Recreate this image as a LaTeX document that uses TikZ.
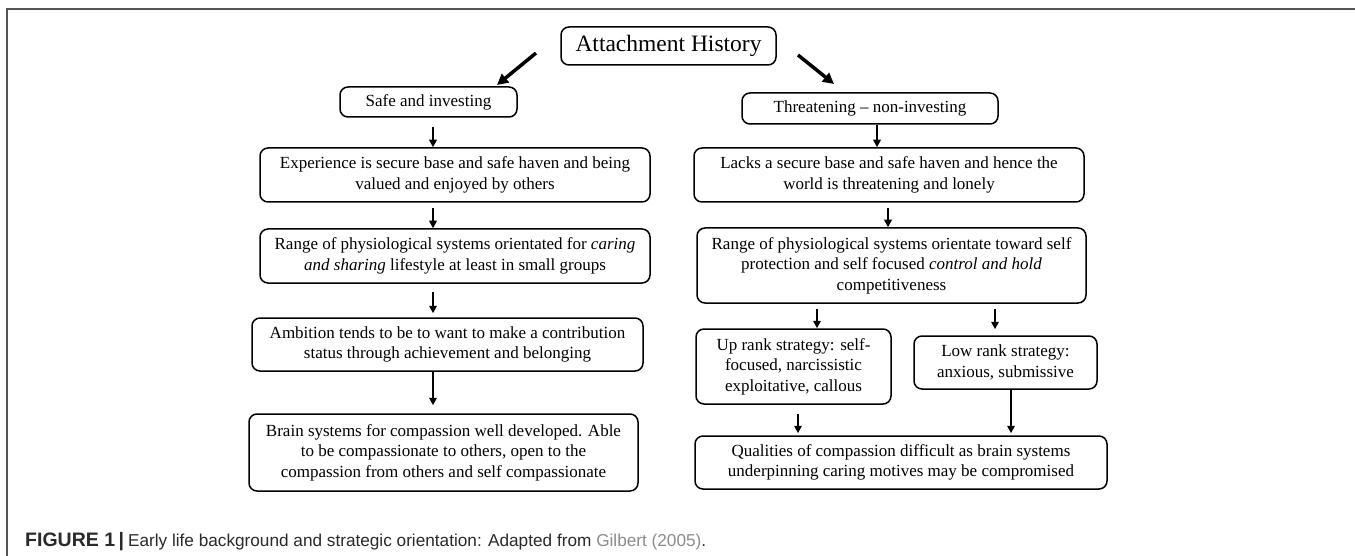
\documentclass[tikz,border=0pt]{standalone}
\usepackage{fontspec}
\setmainfont{Liberation Serif}
\newfontfamily\capfont{Liberation Sans}
\usetikzlibrary{arrows.meta}
\definecolor{framegray}{HTML}{555555}
\definecolor{captext}{HTML}{2A2A2A}
\definecolor{linkgray}{HTML}{8C8C8C}
\begin{document}
\begin{tikzpicture}[x=1pt,y=-1pt,
  box/.style={draw=black, line width=1.5pt, rounded corners=8pt, inner sep=0pt, align=center,
              font=\fontsize{17pt}{20.5pt}\selectfont},
  arr/.style={line width=1.8pt, -{Triangle[length=7.5pt,width=7.5pt]}},
  bigarr/.style={line width=3.5pt, -{Triangle[length=11pt,width=11pt]}}]
\useasboundingbox (0,0) rectangle (1355,556);
\fill[white] (0,0) rectangle (1355,556);
\draw[framegray, line width=1.5pt] (1355,9) -- (7,9) -- (7,556);

% title
\node[box, minimum width=215pt, minimum height=38pt, font=\fontsize{23.5pt}{26pt}\selectfont] (ah) at (668.5,46) {Attachment History};

% left column
\node[box, minimum width=177pt, minimum height=30pt] (s1) at (428.5,102) {Safe and investing};
\node[box, minimum width=390pt, minimum height=54pt] (e1) at (455,175)
  {Experience is secure base and safe haven and being\\valued and enjoyed by others};
\node[box, minimum width=390pt, minimum height=54pt] (r1) at (455,256)
  {Range of physiological\ systems orientated for \textit{caring}\\\textit{and sharing} lifestyle at least in small groups};
\node[box, minimum width=391pt, minimum height=53pt] (a1) at (447.5,344.5)
  {Ambition tends to be to want to make a contribution\\status through achievement and belonging};
\node[box, minimum width=389pt, minimum height=77pt] (b1) at (443.5,452.5)
  {Brain systems for compassion well developed. Able\\to be compassionate to others, open to the\\compassion from others and self compassionate};

% right column
\node[box, minimum width=256pt, minimum height=31pt] (t1) at (870,108.5) {Threatening -- non-investing};
\node[box, minimum width=390pt, minimum height=54pt] (l1) at (889,175)
  {Lacks a secure base and safe haven and hence the\\world is threatening and lonely};
\node[box, minimum width=389pt, minimum height=75pt] (r2) at (891.5,265.5)
  {Range of physiological\ systems orientate toward self\\protection and self focused \textit{control and hold}\\competitiveness};
\node[box, minimum width=195pt, minimum height=75pt] (u1) at (793.5,366.5)
  {Up rank strategy: self-\\focused, narcissistic\\exploitative, callous};
\node[box, minimum width=183pt, minimum height=53pt] (lo) at (1005.5,362.5)
  {Low rank strategy:\\anxious, submissive};
\node[box, minimum width=412pt, minimum height=53pt] (q1) at (901,462.5)
  {Qualities of compassion difficult as brain systems\\underpinning caring motives may be compromised};

% big diagonal arrows
\coordinate (dl1) at (536,53);
\coordinate (dl2) at (497,85);
\coordinate (dr1) at (798,55);
\coordinate (dr2) at (834,84);
\draw[bigarr] (dl1) -- (dl2);
\draw[bigarr] (dr1) -- (dr2);

% left arrows
\draw[arr] ([xshift=4.5pt,yshift=-9pt]s1.south) -- ([xshift=-22pt]e1.north);
\draw[arr] ([xshift=-22pt,yshift=-5pt]e1.south) -- ([xshift=-22pt]r1.north);
\draw[arr] ([xshift=-22pt,yshift=-8pt]r1.south) -- ([xshift=-14.5pt,yshift=4pt]a1.north);
\draw[arr] ([xshift=-14.5pt]a1.south) -- ([xshift=-10.5pt,yshift=8pt]b1.north);

% right arrows
\draw[arr] ([xshift=7pt]t1.south) -- ([xshift=-12pt]l1.north);
\draw[arr] ([xshift=-1pt,yshift=-5pt]l1.south) -- ([xshift=-3.5pt]r2.north);
\draw[arr] ([xshift=-74.5pt,yshift=-5pt]r2.south) -- ([xshift=23.5pt]u1.north);
\draw[arr] ([xshift=103.5pt,yshift=-5pt]r2.south) -- ([xshift=-10.5pt,yshift=6pt]lo.north);
\draw[arr] ([xshift=4.5pt,yshift=-9pt]u1.south) -- ([xshift=-103pt,yshift=2pt]q1.north);
\draw[arr] ([xshift=5.5pt]lo.south) -- ([xshift=110pt,yshift=2pt]q1.north);

% caption
\node[anchor=base west, inner sep=0pt, text=captext, font=\capfont\fontsize{17.2pt}{20pt}\selectfont] (cap) at (25,546.7)
  {{\fontsize{19.5pt}{20pt}\selectfont\bfseries FIGURE~1}\hspace{3.5pt}{\fontsize{19.5pt}{20pt}\selectfont\bfseries|}\hspace{4pt}Early life background and strategic orientation: Adapted from \textcolor{linkgray}{Gilbert (2005)}.};
\end{tikzpicture}
\end{document}
